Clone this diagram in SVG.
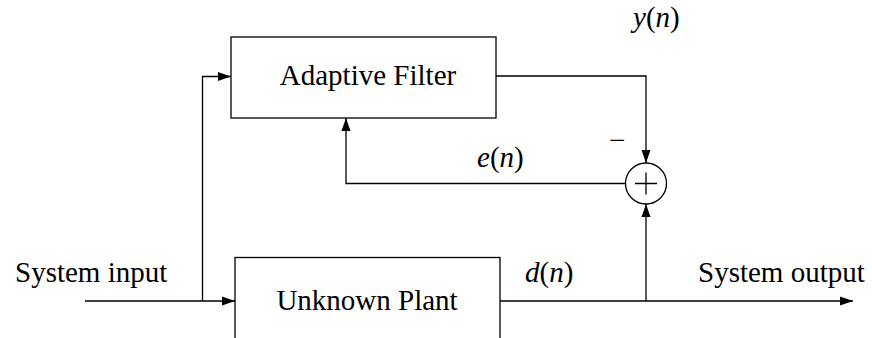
<svg xmlns="http://www.w3.org/2000/svg" width="872" height="338" viewBox="0 0 872 338">
<style>
  .box { fill: #ffffff; stroke: #000000; stroke-width: 1.3; }
  .wire { fill: none; stroke: #000000; stroke-width: 1.3; }
  .lbl { font-family: 'Liberation Serif', 'Times New Roman', serif; font-size: 29px; fill: #000000; }
  .it { font-style: italic; }
</style>
<defs>
  <marker id="arr" markerUnits="userSpaceOnUse" markerWidth="14" markerHeight="10" refX="13" refY="5" orient="auto">
    <path d="M0,0.5 L13,5 L0,9.5 Z" fill="#000000"/>
  </marker>
</defs>
<rect width="872" height="338" fill="#ffffff"/>
<g id="connectors">
  <path class="wire" d="M85,301 L235,301" marker-end="url(#arr)"/>
  <path class="wire" d="M202.5,301 L202.5,76.5 L231,76.5" marker-end="url(#arr)"/>
  <path class="wire" d="M496,76 L646,76 L646,163" marker-end="url(#arr)"/>
  <path class="wire" d="M625.5,183.5 L346,183.5 L346,118" marker-end="url(#arr)"/>
  <path class="wire" d="M500,301 L853,301" marker-end="url(#arr)"/>
  <path class="wire" d="M646,301 L646,204" marker-end="url(#arr)"/>
</g>
<g id="adaptive-filter">
  <rect class="box" x="231" y="37" width="265" height="81"/>
  <text class="lbl" x="368" y="85" text-anchor="middle">Adaptive Filter</text>
</g>
<g id="unknown-plant">
  <rect class="box" x="235" y="257.5" width="265" height="100"/>
  <text class="lbl" x="367" y="310" text-anchor="middle">Unknown Plant</text>
</g>
<g id="sum">
  <circle class="wire" cx="646" cy="183.5" r="20.5"/>
  <path class="wire" d="M635,183.5 L657,183.5 M646,172.5 L646,194.5"/>
</g>
<g id="labels">
  <text class="lbl" x="633" y="27"><tspan class="it">y</tspan>(<tspan class="it">n</tspan>)</text>
  <text class="lbl" x="477" y="167"><tspan class="it">e</tspan>(<tspan class="it">n</tspan>)</text>
  <text class="lbl" x="525" y="282"><tspan class="it">d</tspan>(<tspan class="it">n</tspan>)</text>
  <text class="lbl" x="15" y="282">System input</text>
  <text class="lbl" x="698" y="282">System output</text>
  <text class="lbl" x="609" y="150" font-size="33">−</text>
</g>
</svg>
